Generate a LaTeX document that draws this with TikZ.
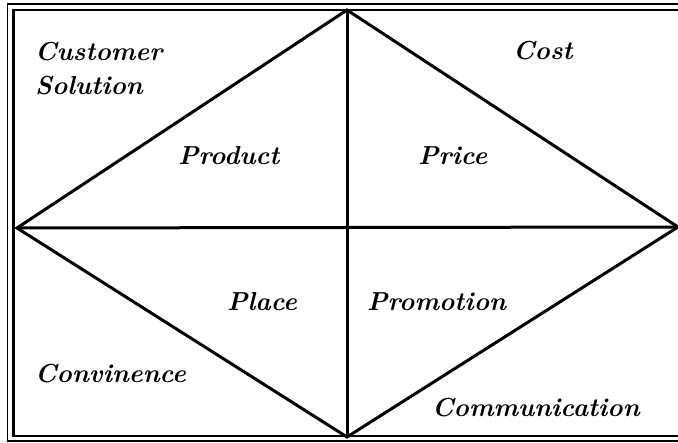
\documentclass[tikz,border=0pt]{standalone}
\begin{document}
\begin{tikzpicture}[x=1pt,y=-1pt,
  lbl/.style={anchor=base west,inner sep=0pt,font=\fontsize{26}{30}\selectfont\bfseries\itshape},
  edge/.style={line width=3pt,line join=miter}]
\useasboundingbox (0,0) rectangle (678,443);
\clip (0,0) rectangle (678,443);
\fill[white] (0,0) rectangle (678,443);
% frame
\draw[line width=1.5pt] (690,4) -- (7.5,4) -- (7.5,441) -- (690,441);
\draw[line width=2.3pt] (690,10) -- (13.5,10) -- (13.5,436) -- (690,436);
% diamond
\coordinate (T) at (347,10);
\coordinate (R) at (678,227);
\coordinate (B) at (347,437);
\coordinate (L) at (17,228);
\draw[edge] (T) -- (R) -- (B) -- (L) -- cycle;
\draw[edge] (L) -- (R);
\draw[edge] (T) -- (B);
% labels
\node[lbl] (cust) at (35,61) {Customer};
\node[lbl] (sol) at (35,95) {Solution};
\node[lbl] (cost) at (513,60) {Cost};
\node[lbl] (prod) at (178,165) {Product};
\node[lbl] (price) at (418,165) {Price};
\node[lbl] (place) at (227,311) {Place};
\node[lbl] (promo) at (367,311) {Promotion};
\node[lbl] (conv) at (35,383) {Convinence};
\node[lbl] (comm) at (432,417) {Communication};
\end{tikzpicture}
\end{document}
